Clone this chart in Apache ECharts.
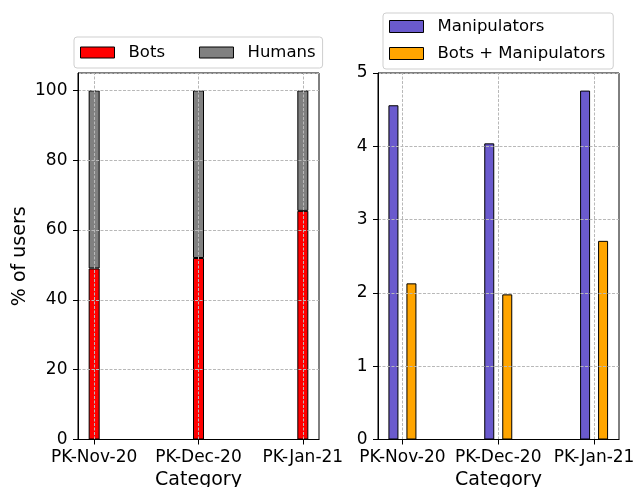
<!DOCTYPE html>
<html><head><meta charset="utf-8">
<script src="https://cdn.jsdelivr.net/npm/echarts@6/dist/echarts.min.js"></script>
<style>html,body{margin:0;padding:0;background:#fff}#c{width:636px;height:487px}</style>
</head><body><div id="c"></div>
<script>
const categories = ['PK-Nov-20', 'PK-Dec-20', 'PK-Jan-21'];
const bots = [49, 52, 65.5];
const humans = [51, 48, 34.5];
const manipulators = [4.56, 4.04, 4.76];
const botsManipulators = [2.13, 1.98, 2.71];

const FF = 'DejaVu Sans';
const W = 636;
const pos = categories.map((c, i) => i);
const pts = arr => arr.map((v, i) => [pos[i], v]);

const G0 = { left: 78, right: 317, top: 73, bottom: 47.5 };
const G1 = { left: 378, right: 17, top: 73, bottom: 47.5 };
const X0 = [-0.155, 2.155], X1 = [-0.255, 2.26];
// hidden category grid aligned with left value axis (for stacking)
const gw = W - G0.left - G0.right;
const toPx = v => G0.left + (v - X0[0]) / (X0[1] - X0[0]) * gw;
const G2 = { left: toPx(pos[0]), right: W - toPx(pos[pos.length - 1]), top: G0.top, bottom: G0.bottom, show: false, outerBoundsMode: 'none' };

const gridLine = { show: true, lineStyle: { color: '#b8b8b8', type: [3, 1.5], width: 1 } };
const axisLineS = { show: true, onZero: false, lineStyle: { color: '#000', width: 1 } };
const tickS = { show: true, inside: false, length: 5, lineStyle: { color: '#000', width: 1 } };

function xAxisDef(gi, ext) {
  return {
    type: 'value', gridIndex: gi, min: ext[0], max: ext[1], z: 5,
    axisLine: axisLineS,
    axisTick: Object.assign({}, tickS, { customValues: pos }),
    axisLabel: { customValues: pos, formatter: v => categories[Math.round(v)], fontFamily: FF, fontSize: 17, color: '#000', margin: 9.5 },
    splitLine: { show: false },
    name: 'Category', nameLocation: 'middle', nameGap: 30,
    nameTextStyle: { fontFamily: FF, fontSize: 19, color: '#000' }
  };
}
function yAxisDef(gi, max, interval, name) {
  return {
    type: 'value', gridIndex: gi, min: 0, max: max, interval: interval, z: 5,
    axisLine: axisLineS, axisTick: tickS,
    axisLabel: { fontFamily: FF, fontSize: 17, color: '#000', margin: 10.5, showMaxLabel: max % interval === 0 },
    splitLine: gridLine,
    name: name, nameLocation: 'middle', nameGap: 48,
    nameTextStyle: { fontFamily: FF, fontSize: 19, color: '#000' }
  };
}
const vLines = gi => ({
  type: 'line', xAxisIndex: gi, yAxisIndex: gi, data: [], z: 6, silent: true,
  markLine: { silent: true, symbol: 'none', label: { show: false },
    lineStyle: { color: '#b8b8b8', type: [3, 1.5], width: 1 },
    data: pos.map(p => ({ xAxis: p })) }
});
const edge = { borderColor: '#000', borderWidth: 1 };
const gridBase = { show: true, borderColor: '#000', borderWidth: 1, backgroundColor: 'transparent', outerBoundsMode: 'none', containLabel: false };

const option = {
  animation: false,
  backgroundColor: '#fff',
  grid: [Object.assign({}, gridBase, G0), Object.assign({}, gridBase, G1), G2],
  xAxis: [xAxisDef(0, X0), xAxisDef(1, X1),
    { type: 'category', gridIndex: 2, data: categories, boundaryGap: false, show: false }],
  yAxis: [yAxisDef(0, 105, 20, '% of users'), yAxisDef(1, 5, 1, ''),
    { type: 'value', gridIndex: 2, min: 0, max: 105, show: false, splitLine: { show: false } }],
  legend: [
    { data: ['Bots', 'Humans'], orient: 'horizontal', left: 74, top: 37, padding: [7, 7, 7, 6],
      itemWidth: 34, itemHeight: 11, itemGap: 34, icon: 'rect',
      textStyle: { fontFamily: FF, fontSize: 16.5, color: '#000', padding: [0, 0, 0, 9] },
      borderColor: '#cfcfcf', borderWidth: 1, borderRadius: 3,
      itemStyle: { borderColor: '#000', borderWidth: 1 } },
    { data: ['Manipulators', 'Bots + Manipulators'], orient: 'vertical', left: 383, top: 13, padding: [5, 8, 7, 6],
      itemWidth: 34, itemHeight: 12, itemGap: 10, icon: 'rect',
      textStyle: { fontFamily: FF, fontSize: 16.5, color: '#000', padding: [0, 0, 0, 9] },
      borderColor: '#cfcfcf', borderWidth: 1, borderRadius: 3,
      itemStyle: { borderColor: '#000', borderWidth: 1 } }
  ],
  series: [
    { name: 'Bots', type: 'bar', xAxisIndex: 2, yAxisIndex: 2, stack: 'tot', barWidth: 11, clip: false,
      data: bots, itemStyle: Object.assign({ color: '#ff0000' }, edge) },
    { name: 'Humans', type: 'bar', xAxisIndex: 2, yAxisIndex: 2, stack: 'tot', barWidth: 11, clip: false,
      data: humans, itemStyle: Object.assign({ color: '#808080' }, edge) },
    { name: 'Manipulators', type: 'bar', xAxisIndex: 1, yAxisIndex: 1, barWidth: 10, barGap: '80%',
      data: pts(manipulators), itemStyle: Object.assign({ color: '#6a5acd' }, edge) },
    { name: 'Bots + Manipulators', type: 'bar', xAxisIndex: 1, yAxisIndex: 1, barWidth: 10, barGap: '80%',
      data: pts(botsManipulators), itemStyle: Object.assign({ color: '#ffa500' }, edge) },
    vLines(0), vLines(1)
  ]
};
const chart = echarts.init(document.getElementById('c'), null, { renderer: 'canvas' });
chart.setOption(option);
</script></body></html>
